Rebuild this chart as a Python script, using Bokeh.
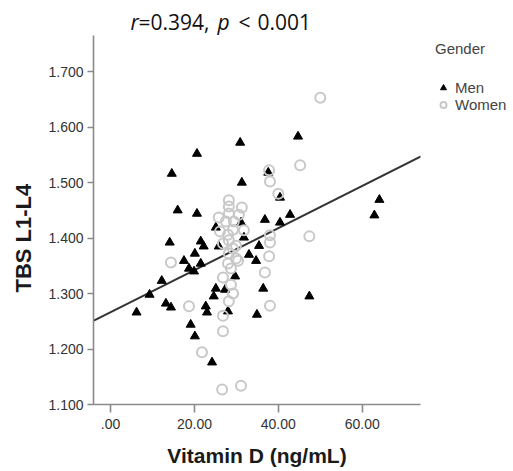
from bokeh.plotting import figure
from bokeh.models import Range1d, FixedTicker, Legend, LegendItem, Label, Title
from bokeh.embed import file_html
from bokeh.resources import INLINE

# ---- data ----
men_vitd = [30.9, 20.6, 14.6, 31.3, 44.7, 16.0, 20.6, 36.8, 42.8, 40.4,
            31.1, 14.1, 21.5, 22.2, 31.8, 35.4, 20.1, 17.5, 33.0, 34.7,
            21.5, 18.7, 19.9, 12.2, 9.3, 25.1, 24.6, 36.4, 47.4, 13.2,
            14.4, 22.7, 23.0, 6.2, 19.1, 20.1, 24.2, 34.9, 64.1, 62.9,
            37.6, 40.4, 25.1, 25.8, 29.7, 27.3, 28.0]
men_tbs = [1.572, 1.552, 1.516, 1.500, 1.583, 1.450, 1.444, 1.433, 1.442, 1.428,
           1.428, 1.392, 1.394, 1.385, 1.401, 1.386, 1.372, 1.359, 1.370, 1.359,
           1.354, 1.345, 1.340, 1.323, 1.298, 1.309, 1.295, 1.309, 1.295, 1.282,
           1.275, 1.277, 1.266, 1.266, 1.244, 1.223, 1.176, 1.262, 1.469, 1.441,
           1.518, 1.473, 1.419, 1.385, 1.331, 1.307, 1.268]

women_vitd = [50.0, 45.2, 37.8, 38.0, 40.0, 47.4, 38.0, 38.0, 37.8, 36.8, 38.0,
              28.2, 28.2, 28.2, 31.3, 30.6, 25.8, 27.5, 29.4, 31.8, 26.1, 28.0,
              29.2, 28.2, 26.8, 29.9, 29.2, 28.2, 29.9, 28.0, 28.7, 26.8, 28.7,
              29.2, 28.2, 30.4,
              14.4, 18.7, 26.8, 26.8, 21.8, 26.6, 31.1]
women_tbs = [1.653, 1.531, 1.522, 1.502, 1.480, 1.403, 1.405, 1.392, 1.367, 1.338, 1.278,
             1.468, 1.457, 1.444, 1.455, 1.442, 1.437, 1.430, 1.430, 1.414, 1.412, 1.406,
             1.415, 1.396, 1.390, 1.386, 1.381, 1.372, 1.363, 1.354, 1.345, 1.329, 1.316,
             1.300, 1.286, 1.359,
             1.356, 1.277, 1.260, 1.232, 1.194, 1.127, 1.134]

reg_vitd = [-4.0, 74.0]
reg_tbs = [1.251, 1.547]

x_ticks = [0, 20, 40, 60]
x_tick_labels = [".00", "20.00", "40.00", "60.00"]
y_ticks = [1.1, 1.2, 1.3, 1.4, 1.5, 1.6, 1.7]
y_tick_labels = ["1.100", "1.200", "1.300", "1.400", "1.500", "1.600", "1.700"]

x_span = (-4.07, 73.9)
y_span = (1.1, 1.765)

# the frame reaches up over the title area; the y axis is bounded to the data span
FW, FH_AXIS, FH = 327, 369, 402
y_end = y_span[0] + FH * (y_span[1] - y_span[0]) / FH_AXIS

p = figure(frame_width=FW, frame_height=FH,
           x_range=Range1d(*x_span), y_range=Range1d(y_span[0], y_end),
           output_backend="svg", toolbar_location=None,
           min_border_left=93, min_border_right=93,
           min_border_top=2, min_border_bottom=67)
p.outline_line_color = None
p.xgrid.visible = False
p.ygrid.visible = False
p.background_fill_color = "white"

axis_gray = "#8a8a8a"
for ax in (p.xaxis[0], p.yaxis[0]):
    ax.axis_line_color = axis_gray
    ax.axis_line_width = 1.6
    ax.major_tick_line_color = axis_gray
    ax.major_tick_line_width = 1.6
    ax.major_tick_in = 0
    ax.minor_tick_line_color = None
    ax.major_label_text_font = "Liberation Sans"
    ax.major_label_text_font_size = "14px"
    ax.major_label_text_color = "#333333"
    ax.axis_label_text_font = "Liberation Sans"
    ax.axis_label_text_font_size = "21px"
    ax.axis_label_text_font_style = "bold"
    ax.axis_label_text_color = "#1a1a1a"

p.xaxis.ticker = FixedTicker(ticks=x_ticks)
p.xaxis.major_label_overrides = {t: l for t, l in zip(x_ticks, x_tick_labels)}
p.xaxis.major_tick_out = 8
p.xaxis.major_label_standoff = 6
p.xaxis.axis_label = "Vitamin D (ng/mL)"
p.xaxis.axis_label_standoff = 12

p.yaxis.bounds = y_span
p.yaxis.ticker = FixedTicker(ticks=y_ticks)
p.yaxis.major_label_overrides = {t: l for t, l in zip(y_ticks, y_tick_labels)}
p.yaxis.major_tick_out = 6
p.yaxis.major_label_standoff = 4

# y axis label as a side title so it can sit beside the data span
ylab = Title(text="TBS L1-L4", align="left", offset=112, vertical_align="middle",
             standoff=17, text_font="Liberation Sans", text_font_size="22px",
             text_font_style="bold", text_color="#1a1a1a")
p.add_layout(ylab, "left")

p.line(reg_vitd, reg_tbs, line_color="#333333", line_width=2)

r_men = p.scatter(men_vitd, men_tbs, marker="triangle", size=9,
                  fill_color="black", line_color="black")
r_women = p.scatter(women_vitd, women_tbs, marker="circle", size=10,
                    fill_color=None, line_color="#c8c8c8", line_width=2)

legend = Legend(items=[LegendItem(label="Men", renderers=[r_men]),
                       LegendItem(label="Women", renderers=[r_women])],
                title="Gender", location=(15, 291))
legend.border_line_color = None
legend.background_fill_alpha = 0
legend.title_text_font = "Liberation Sans"
legend.title_text_font_size = "15px"
legend.title_text_font_style = "normal"
legend.title_text_color = "#444444"
legend.label_text_font = "Liberation Sans"
legend.label_text_font_size = "15px"
legend.label_text_color = "#444444"
legend.glyph_width = 16
legend.glyph_height = 15
legend.label_height = 15
legend.label_standoff = 4
legend.spacing = -1
legend.padding = 3
legend.margin = 0
legend.title_standoff = 22
p.add_layout(legend, "right")

# title made of pieces so that r and p are italic
pieces = [("r", 37, "italic"), ("=0.394,", 45, "normal"), ("p", 124, "italic"),
          ("<", 145, "normal"), ("0.001", 164, "normal")]
for txt, xo, style in pieces:
    p.add_layout(Label(x=xo, y=383, x_units="screen", y_units="screen",
                       text=txt, text_font="Open Sans", text_font_size="21px",
                       text_font_style=style, text_color="#111111",
                       text_baseline="alphabetic"))

open("out.html", "w").write(file_html(p, INLINE))
